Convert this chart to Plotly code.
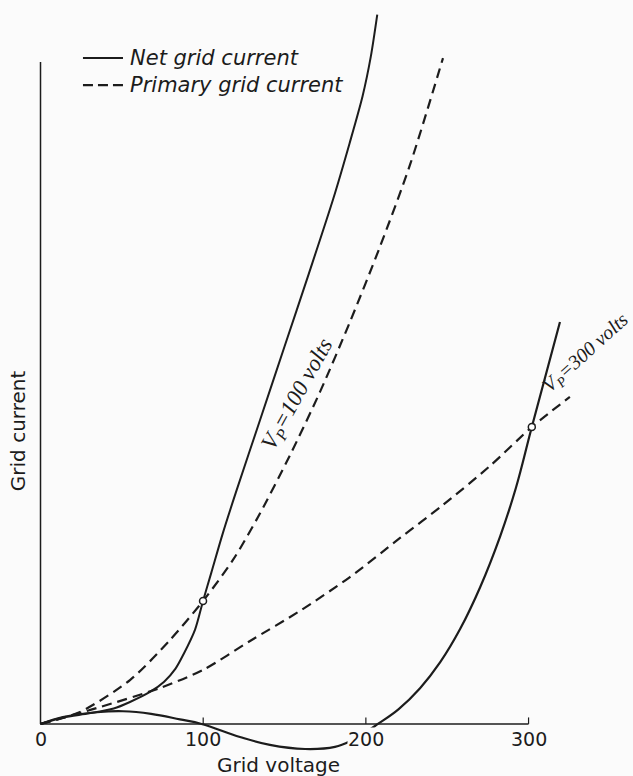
import plotly.graph_objects as go

# grid voltage (volts) / grid current (arbitrary units)
net_100_v = [0, 14, 30, 45, 55, 67, 76, 83, 88, 95, 99.9, 105, 112, 120, 135, 150, 165, 180, 190, 198, 203, 207]
net_100_i = [0, 4, 6.5, 9.5, 13.5, 19.5, 26, 34, 43, 58, 75.6, 93, 117, 142, 187, 232, 277, 323, 357, 386, 410, 436]

prim_100_v = [0, 24.3, 55.0, 79.6, 99.9, 118.3, 133.7, 153.4, 171.8, 190.2, 208.6, 227.1, 247.4]
prim_100_i = [0, 7.4, 27.0, 51.6, 75.6, 100.8, 127.2, 165.3, 204.1, 247.1, 293.2, 343.6, 409.3]

prim_300_v = [0, 34.7, 73.4, 99.9, 128.8, 159.5, 190.2, 221.0, 247.4, 276.3, 302.0, 325.4]
prim_300_i = [0, 9.8, 22.1, 33.2, 51.0, 69.5, 90.3, 114.3, 134.6, 158.6, 182.5, 201.0]

net_300_v = [0, 13.8, 34.7, 50.7, 68.0, 85.7, 99.0, 122.6, 141.0, 162.6, 181.0, 191.5, 200.1, 207.4,
             220.0, 233.3, 245.7, 258.0, 270.3, 282.6, 292.2, 302.0, 319.3]
net_300_i = [0, 4.3, 7.2, 7.8, 6.2, 2.8, 0, -8.0, -12.9, -15.4, -14.1, -10.0, -5.0, 0,
             9.0, 22.0, 38.0, 58.5, 84.2, 115.5, 145.0, 182.5, 247.1]

cross_v = [99.9, 302.0]
cross_i = [75.6, 182.5]

x_ticks = [0, 100, 200, 300]
x_tick_text = ["0", "100", "200", "300"]

ink = "#1c1c1c"
dash = "10px,6px"
fig = go.Figure()

fig.add_trace(go.Scatter(x=net_100_v, y=net_100_i, mode="lines",
                         line=dict(color=ink, width=2, shape="spline", smoothing=0.8)))
fig.add_trace(go.Scatter(x=prim_100_v, y=prim_100_i, mode="lines",
                         line=dict(color=ink, width=2.2, dash=dash, shape="spline", smoothing=0.8)))
fig.add_trace(go.Scatter(x=prim_300_v, y=prim_300_i, mode="lines",
                         line=dict(color=ink, width=2.2, dash=dash, shape="spline", smoothing=0.8)))
fig.add_trace(go.Scatter(x=net_300_v, y=net_300_i, mode="lines",
                         line=dict(color=ink, width=2.2, shape="spline", smoothing=1.1)))
fig.add_trace(go.Scatter(x=cross_v, y=cross_i, mode="markers",
                         marker=dict(size=7, color="white", line=dict(color=ink, width=1.5))))

# axes drawn by hand
fig.add_shape(type="line", x0=0, x1=0, y0=0, y1=406.9, line=dict(color=ink, width=1.5))
fig.add_shape(type="line", x0=0, x1=300, y0=0, y1=0, line=dict(color=ink, width=1.5))
for t in x_ticks[1:]:
    fig.add_shape(type="line", x0=t, x1=t, y0=0, y1=4, line=dict(color=ink, width=1.2))

tick_font = dict(family="DejaVu Sans", size=19, color=ink)
title_font = dict(family="DejaVu Sans", size=20, color=ink)
for t, lab in zip(x_ticks, x_tick_text):
    fig.add_annotation(x=t, y=0, text=lab, showarrow=False, yanchor="top", yshift=-3,
                       font=tick_font, bgcolor="#fbfbfb" if t == 200 else "rgba(0,0,0,0)", borderpad=0)

fig.add_annotation(x=146, y=-25.5, text="Grid voltage", showarrow=False, font=title_font)
fig.add_annotation(x=-13.8, y=180, text="Grid current", showarrow=False, textangle=-90, font=title_font)

# legend, drawn by hand
leg_font = dict(family="DejaVu Sans", size=21, color=ink, style="italic")
fig.add_shape(type="line", x0=26.1, x1=50.7, y0=409.3, y1=409.3, line=dict(color=ink, width=2))
fig.add_shape(type="line", x0=26.1, x1=50.7, y0=392.7, y1=392.7, line=dict(color=ink, width=2.2, dash="10px,5px"))
fig.add_annotation(x=53.5, y=409.3, text="Net grid current", showarrow=False, xanchor="left", font=leg_font)
fig.add_annotation(x=53.5, y=392.7, text="Primary grid current", showarrow=False, xanchor="left", font=leg_font)

lab_font = dict(family="Liberation Serif", size=23, color=ink, style="italic")
fig.add_annotation(x=158.3, y=202, text="V<sub>P</sub>=100 volts", showarrow=False,
                   textangle=-61, font=lab_font)
fig.add_annotation(x=335.0, y=228, text="V<sub>P</sub>=300 volts", showarrow=False,
                   textangle=-42, font=dict(lab_font, size=20))

fig.update_layout(
    width=633, height=776,
    margin=dict(l=0, r=0, t=0, b=0),
    paper_bgcolor="#fbfbfb", plot_bgcolor="#fbfbfb",
    xaxis=dict(range=[-24.9, 364.2], visible=False),
    yaxis=dict(range=[-32.0, 445.0], visible=False),
    showlegend=False,
)

fig.write_html("out.html", config={"displayModeBar": False},
               post_script="document.body.style.margin='0';")
